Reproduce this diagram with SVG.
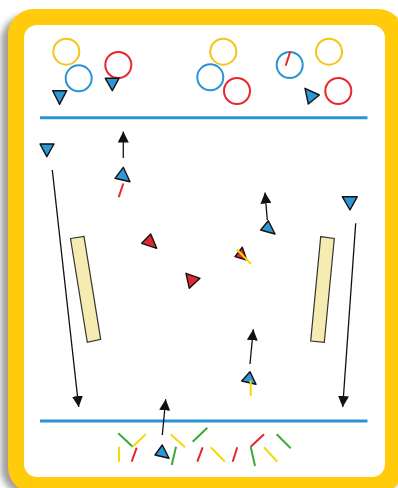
<svg xmlns="http://www.w3.org/2000/svg" width="398" height="488" viewBox="0 0 398 488">
<style>
.ring{fill:none;stroke-width:2}
.cy{stroke:#f5c518}.cb{stroke:#2a93d3}.cr{stroke:#e8262b}
.tb{fill:#2e97d4;stroke:#111;stroke-width:1.4;stroke-linejoin:round}
.tr{fill:#e12834;stroke:#111;stroke-width:1.4;stroke-linejoin:round}
.field{stroke:#2a93d3;stroke-width:3;fill:none}
.run{stroke:#111;stroke-width:1.3;fill:none}
.st{stroke-width:2;stroke-linecap:butt;fill:none}
.sy{stroke:#f5d90a}.sr{stroke:#e8262b}.sg{stroke:#3aaa35}
.bench{fill:#f6ebb1;stroke:#333;stroke-width:1.2}
</style>
<defs>
<marker id="ah" viewBox="0 0 10 10" refX="10" refY="5" markerWidth="11" markerHeight="11" markerUnits="userSpaceOnUse" orient="auto">
<path d="M0,0 L10,5 L0,10 z" fill="#111"/>
</marker>
<filter id="sh" x="-10%" y="-10%" width="120%" height="120%"><feGaussianBlur stdDeviation="3"/></filter>
</defs>
<g id="frame">
<rect x="1" y="15" width="400" height="480" rx="26" fill="#777" opacity="0.7" filter="url(#sh)"/>
<rect x="8" y="9" width="396" height="484" rx="26" fill="#ffcb0a"/>
<rect x="24" y="25" width="361" height="452" rx="13" fill="#fff"/>
</g>
<g id="fieldlines">
<line class="field" x1="40" y1="117.8" x2="367.5" y2="117.8"/>
<line class="field" x1="40" y1="421" x2="367.5" y2="421"/>
</g>
<g id="benches">
<g id="bench-left"><polygon class="bench" points="70.5,238.5 84,236.5 100.7,339.3 87.3,342.3"/></g>
<g id="bench-right"><polygon class="bench" points="320.7,236.7 334.3,238.5 324.3,342.3 310.7,341"/></g>
</g>
<g id="connectors">
<line class="run" x1="52.3" y1="170" x2="78.7" y2="407" marker-end="url(#ah)"/>
<line class="run" x1="355.7" y1="223.3" x2="342.7" y2="407" marker-end="url(#ah)"/>
<line class="run" x1="123.3" y1="158" x2="123.3" y2="131.5" marker-end="url(#ah)"/>
<line class="run" x1="267.3" y1="220" x2="265" y2="192.5" marker-end="url(#ah)"/>
<line class="run" x1="250" y1="364" x2="253.3" y2="329.3" marker-end="url(#ah)"/>
<line class="run" x1="162.3" y1="435" x2="165.7" y2="399.3" marker-end="url(#ah)"/>
</g>
<g id="cones-top">
<circle class="ring cy" cx="66.3" cy="51.7" r="13"/>
<circle class="ring cb" cx="78.7" cy="78.3" r="13"/>
<circle class="ring cr" cx="118.3" cy="65" r="13"/>
<circle class="ring cy" cx="223.3" cy="51.7" r="13"/>
<circle class="ring cb" cx="210.3" cy="77.3" r="13"/>
<circle class="ring cr" cx="237" cy="91" r="13"/>
<circle class="ring cb" cx="289.7" cy="65" r="13"/>
<line class="st sr" x1="290.3" y1="51.5" x2="285.7" y2="65.7"/>
<circle class="ring cy" cx="329" cy="51.7" r="13"/>
<circle class="ring cr" cx="338.3" cy="91" r="13"/>
</g>
<g id="player-b1"><polygon class="tb" points="52.7,90.7 66.7,90.7 59.5,104.3"/></g>
<g id="player-b2"><polygon class="tb" points="105.3,78.3 119,78.3 112.3,90.7"/></g>
<g id="player-b3"><polygon class="tb" points="305,88.3 319.3,95 308.3,104"/></g>
<g id="player-b4"><polygon class="tb" points="40,144 54,144 46.8,156.7"/></g>
<g id="player-b5"><polygon class="tb" points="115,178.3 123.3,167.3 130,181.7"/><line class="st sr" x1="123.3" y1="183.5" x2="118.7" y2="197.3"/></g>
<g id="player-b6"><polygon class="tb" points="260.7,230 268.3,220.7 275,234"/></g>
<g id="player-b7"><polygon class="tb" points="342.3,196.7 357.3,196.7 350,210"/></g>
<g id="player-b8"><polygon class="tb" points="241.7,381 250,371.7 256,384.3"/><line class="st sy" x1="250.7" y1="380.5" x2="250.7" y2="395.7"/></g>
<g id="player-b9"><polygon class="tb" points="155,455 162.3,445 169,458.3"/></g>
<g id="player-r1"><polygon class="tr" points="141.7,243.3 150.7,234 156.7,248.3"/></g>
<g id="player-r2"><polygon class="tr" points="186,273.3 200,278.3 189.3,288.3"/></g>
<g id="player-r3"><polygon class="tr" points="235,256.7 242.3,247.3 246.7,260"/><line class="st sy" x1="236.7" y1="249.3" x2="251" y2="264"/></g>
<g id="sticks">
<line class="st sg" x1="118.3" y1="433.3" x2="132.7" y2="446.7"/>
<line class="st sy" x1="132.7" y1="446.7" x2="145.7" y2="434.3"/>
<line class="st sy" x1="119" y1="446.7" x2="119" y2="461.7"/>
<line class="st sr" x1="136.7" y1="447.7" x2="131.7" y2="461.7"/>
<line class="st sy" x1="170.7" y1="434.3" x2="185" y2="447.3"/>
<line class="st sg" x1="176" y1="446.7" x2="171.7" y2="465"/>
<line class="st sg" x1="192.7" y1="441.7" x2="207.3" y2="427.7"/>
<line class="st sr" x1="202.7" y1="447.3" x2="197.3" y2="461.7"/>
<line class="st sy" x1="210.7" y1="447.3" x2="225" y2="461.7"/>
<line class="st sr" x1="237.3" y1="447.3" x2="232.7" y2="461.7"/>
<line class="st sr" x1="250.7" y1="446.7" x2="264" y2="434.3"/>
<line class="st sg" x1="250.7" y1="446.7" x2="255" y2="466"/>
<line class="st sy" x1="264" y1="447.3" x2="277.3" y2="461.7"/>
<line class="st sg" x1="276.7" y1="434.3" x2="290.7" y2="448.3"/>
</g>
</svg>
